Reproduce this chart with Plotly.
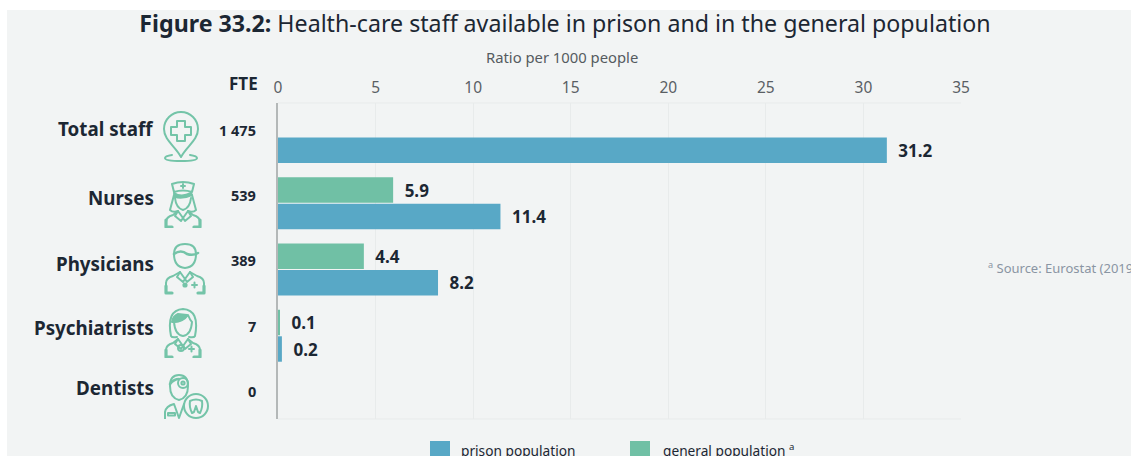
import base64
import plotly.graph_objects as go

categories = ["Total staff", "Nurses", "Physicians", "Psychiatrists", "Dentists"]
prison_categories = ["Total staff", "Nurses", "Physicians", "Psychiatrists"]
prison_population = [31.2, 11.4, 8.2, 0.2]
general_categories = ["Nurses", "Physicians", "Psychiatrists"]
general_population = [5.9, 4.4, 0.1]
fte_labels = ["1 475", "539", "389", "7", "0"]
x_ticks = [0, 5, 10, 15, 20, 25, 30, 35]

WIDTH, HEIGHT = 1131, 456
LEFT, RIGHT, TOP, BOTTOM = 278, 961, 103, 419
BLUE, GREEN = "#58a8c6", "#70c0a5"
ICON = "#74c4a8"
INK = "#1c2733"
FONT = "Noto Sans"


def px(x):
    return (x - LEFT) / (RIGHT - LEFT)


def py(y):
    return (BOTTOM - y) / (BOTTOM - TOP)


def svg_uri(w, h, body):
    svg = (f'<svg xmlns="http://www.w3.org/2000/svg" width="{w}" height="{h}" viewBox="0 0 {w} {h}">'
           f'<g fill="none" stroke="{ICON}" stroke-width="2" stroke-linecap="round" '
           f'stroke-linejoin="round">{body}</g></svg>')
    return "data:image/svg+xml;base64," + base64.b64encode(svg.encode()).decode()


# Shoulders, collar and stethoscope arms shared by the staff pictograms
def torso(w, top, bottom):
    mid = w / 2
    return (f'<path d="M3 {bottom - 1} V{top + 9} Q3 {top + 4} 10 {top + 2} L{mid - 5} {top - 2} L{mid} {top + 5} '
            f'L{mid + 5} {top - 2} L{w - 10} {top + 2} Q{w - 3} {top + 4} {w - 3} {top + 9} V{bottom - 1}"/>'
            f'<path d="M3 {bottom - 8} V{bottom - 1} H9 M{w - 3} {bottom - 8} V{bottom - 1} H{w - 9}" stroke-width="3.2"/>'
            f'<path d="M{mid - 5} {top - 2} L{mid - 8} {top + 3} L{mid - 2} {top + 8} L{mid} {top + 5} '
            f'L{mid + 2} {top + 8} L{mid + 8} {top + 3} L{mid + 5} {top - 2}"/>')


icon_pin = svg_uri(38, 52, (
    '<path d="M19 46 C13 35 2 29 2 18 A17 17 0 1 1 36 18 C36 29 25 35 19 46 Z"/>'
    '<path d="M15 10 H23 V16 H29 V24 H23 V30 H15 V24 H9 V16 H15 Z"/>'
    '<path d="M10 44 Q3 45 3 47 Q3 50 19 50 Q35 50 35 47 Q35 45 28 44"/>'))
icon_nurse = svg_uri(40, 48, (
    '<path d="M9 4 Q20 0 31 4 L29 12 Q20 9 11 12 Z"/><path d="M20 4 V8 M18 6 H22"/>'
    '<path d="M11 13 Q18 18 28 13 L29 15 Q20 19 12 17 Z" fill="' + ICON + '"/>'
    '<path d="M11 15 L7 30 Q10 33 15 31 M29 15 L33 30 Q30 33 25 31"/>'
    '<path d="M12 18 Q13 28 20 30 Q27 28 28 18"/>'
    + torso(40, 33, 48)))
icon_physician = svg_uri(44, 52, (
    '<path d="M11 11 Q11 1 22 1 Q33 1 33 11 Q33 24 22 25 Q11 24 11 11 Z"/>'
    '<path d="M11 11 Q18 6 24 11 Q30 13 35 10" stroke-width="2.6"/>'
    + torso(44, 31, 51)
    + '<circle cx="22" cy="42" r="1.6" fill="' + ICON + '"/><path d="M29 42 H34 M31.5 39.5 V44.5"/>'))
icon_psychiatrist = svg_uri(40, 50, (
    '<path d="M8 28 Q3 2 20 1 Q37 2 32 28 Q31 30 26 29 M8 28 Q9 30 14 29"/>'
    '<path d="M11 14 Q20 14 25 7 Q27 12 29 14 Q28 27 20 28 Q12 27 11 14 Z"/>'
    '<path d="M9 14 Q10 8 15 6 L24 7 Q20 13 11 14 Z" fill="' + ICON + '"/>'
    + torso(40, 33, 50)
    + '<circle cx="18" cy="40" r="3"/><path d="M26 41 H31 M28.5 38.5 V43.5"/>'))
icon_dentist = svg_uri(46, 45, (
    '<path d="M7 12 Q7 1 16 1 Q25 1 25 12 Q25 24 16 26 Q7 24 7 12 Z"/>'
    '<path d="M7 10 Q11 5 16 5" stroke-width="2.6"/>'
    '<circle cx="20" cy="9" r="5"/><circle cx="20" cy="9" r="1.6"/>'
    '<path d="M2 45 V38 Q3 32 11 30 L16 44 L21 30"/><rect x="5" y="39" width="7" height="2.4"/>'
    '<circle cx="33" cy="32" r="12"/>'
    '<path d="M27 27 Q33 24 39 27 Q40 33 37 39 L35 38 L33 32 L31 38 L29 39 Q26 33 27 27 Z"/>'))

# Pictogram placement: left, top, width, height in page pixels
icon_items = [
    (icon_pin, 162, 111, 38, 52),
    (icon_nurse, 163, 180, 40, 48),
    (icon_physician, 163, 243, 44, 52),
    (icon_psychiatrist, 163, 308, 40, 50),
    (icon_dentist, 163, 374, 46, 45),
]
label_y = [129, 198, 264, 328, 388]
fte_y = [130, 195, 260, 326, 391]

fig = go.Figure()
for name, cats, values, color in [
    ("general population", general_categories, general_population, GREEN),
    ("prison population", prison_categories, prison_population, BLUE),
]:
    fig.add_trace(go.Bar(
        name=name, y=cats, x=values, orientation="h", marker_color=color,
        marker_line_width=0, texttemplate="\u2002%{x:.1f}", textposition="outside",
        textfont=dict(family=FONT, size=17, color=INK, weight=700),
        cliponaxis=False, showlegend=False,
    ))

shapes = [
    dict(type="rect", xref="paper", yref="paper", layer="below", x0=px(7), x1=px(WIDTH),
         y0=py(HEIGHT), y1=py(10), fillcolor="#f2f4f4", line_width=0),
    dict(type="line", xref="paper", yref="paper", layer="below", x0=0, x1=1, y0=0, y1=0,
         line=dict(color="#e8ebeb", width=1)),
    dict(type="line", xref="paper", yref="paper", layer="below", x0=0, x1=1, y0=1, y1=1,
         line=dict(color="#e8ebeb", width=1)),
    dict(type="rect", xref="paper", yref="paper", x0=px(430), x1=px(450), y0=py(HEIGHT + 6), y1=py(441),
         fillcolor=BLUE, line_width=0),
    dict(type="rect", xref="paper", yref="paper", x0=px(630), x1=px(650), y0=py(HEIGHT + 6), y1=py(441),
         fillcolor=GREEN, line_width=0),
]


def note(text, x, y, size, color=INK, anchor="right", bold=False):
    return dict(text=f"<b>{text}</b>" if bold else text, xref="paper", yref="paper", x=px(x), y=py(y),
                xanchor=anchor, yanchor="middle", showarrow=False,
                font=dict(family=FONT, size=size, color=color))


annotations = [
    note("FTE", 260, 83, 17, bold=True),
    note("Ratio per 1000 people", 562, 57, 14.8, color="#555b60", anchor="center"),
]
for label, y in zip(categories, label_y):
    annotations.append(note(label, 156, y, 18.8, bold=True))
for label, y in zip(fte_labels, fte_y):
    annotations.append(note(label, 258, y, 14.5, bold=True))
annotations += [
    note("prison population", 459, 450, 13.7, anchor="left"),
    note("general population <sup>a</sup>", 661, 450, 13.7, anchor="left"),
    note("<sup>a</sup> Source: Eurostat (2019)", 986, 267, 13, color="#8a95a3", anchor="left"),
]

images = [
    dict(source=src, xref="paper", yref="paper", x=px(x), y=py(y), sizex=w / (RIGHT - LEFT),
         sizey=h / (BOTTOM - TOP), xanchor="left", yanchor="top", sizing="stretch", layer="above")
    for src, x, y, w, h in icon_items
]

fig.update_layout(
    width=WIDTH, height=HEIGHT, autosize=False,
    margin=dict(l=LEFT, r=WIDTH - RIGHT, t=TOP, b=HEIGHT - BOTTOM, pad=0),
    paper_bgcolor="white", plot_bgcolor="rgba(0,0,0,0)",
    barmode="group", bargap=0.2, bargroupgap=0.04,
    font=dict(family=FONT, color="#555b60"),
    title=dict(
        text="<b>Figure 33.2:</b> Health-care staff available in prison and in the general population",
        x=565 / WIDTH, xanchor="center", y=1 - 24 / HEIGHT, yanchor="middle",
        font=dict(family=FONT, size=23.2, color=INK),
    ),
    xaxis=dict(
        side="top", range=[0, 35], tickvals=x_ticks, ticks="", showline=False,
        showgrid=True, gridcolor="#e8ebeb", gridwidth=1, zeroline=False,
        tickfont=dict(family=FONT, size=15.5, color="#5a5f64"), ticklabelstandoff=6,
    ),
    yaxis=dict(
        type="category", categoryorder="array", categoryarray=categories,
        range=[(BOTTOM - 137) / 66.25, (TOP - 137) / 66.25], showticklabels=False, ticks="",
        showgrid=False, zeroline=False, showline=True, linecolor="#b4b8b8", linewidth=1.5,
    ),
    shapes=shapes, annotations=annotations, images=images,
)

fig.write_html("out.html")
